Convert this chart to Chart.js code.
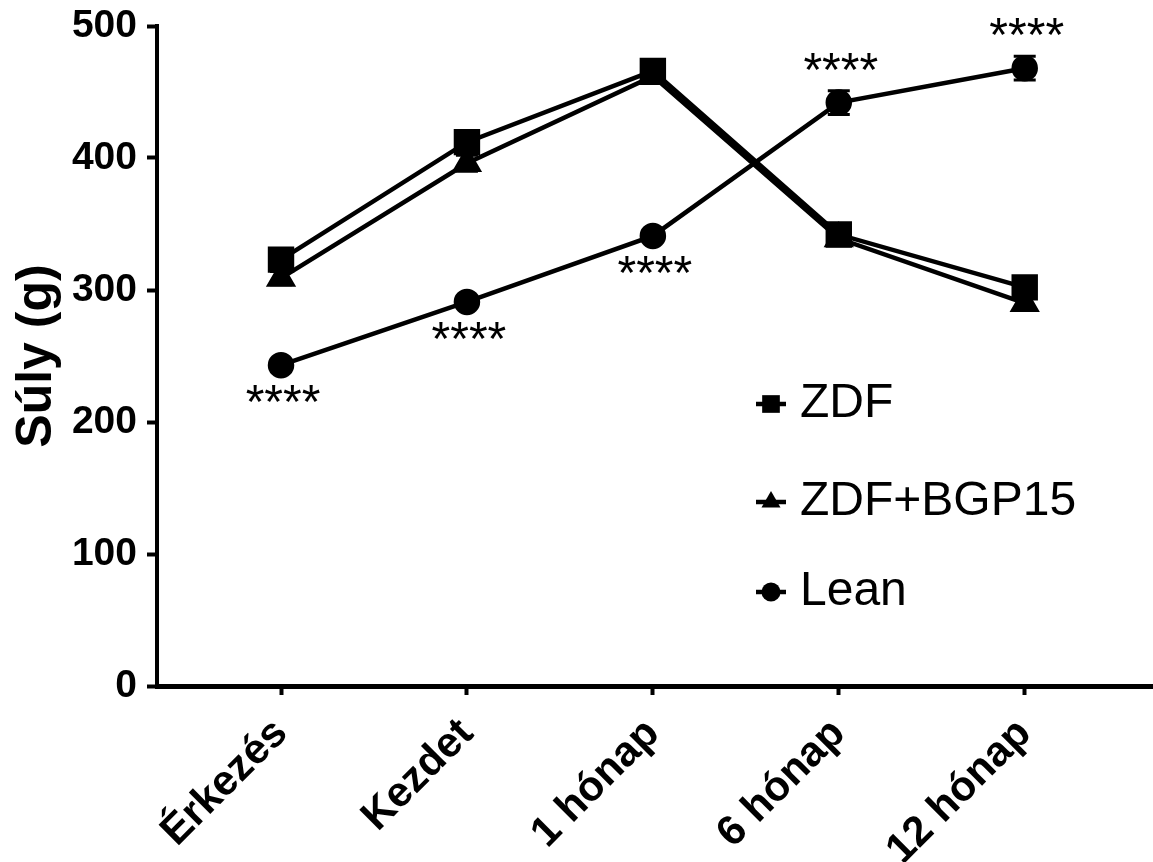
<!DOCTYPE html>
<html>
<head>
<meta charset="utf-8">
<script src="https://cdn.jsdelivr.net/npm/chart.js@4.4.1/dist/chart.umd.min.js"></script>
<style>
  html, body { margin: 0; padding: 0; background: #fff; }
  #wrap { width: 1153px; height: 862px; position: relative; }
</style>
</head>
<body>
<div id="wrap"><canvas id="weightChart"></canvas></div>
<script>
const categories = ['Érkezés', 'Kezdet', '1 hónap', '6 hónap', '12 hónap'];
const zdfValues = [323, 412, 466, 342, 302];
const bgpValues = [309, 396, 462, 339, 290];
const leanValues = [243, 291, 341, 442, 468];
const zdfErr = [7, 7, 5, 6, 8];
const bgpErr = [5, 6, 5, 5, 5];
const leanErr = [3, 3, 4, 9, 9];
const starLabels = ['****', '****', '****', '****', '****'];
const starSide = ['below', 'below', 'below', 'above', 'above'];
const yTicks = [0, 100, 200, 300, 400, 500];

const FONT = 'Arial, "Liberation Sans", sans-serif';

const toPoints = (vals) => vals.map((v, i) => ({ x: i, y: v }));

// error bars drawn from the scales
const errorBars = {
    id: 'errorBars',
    afterDatasetsDraw(chart) {
        const { ctx, scales: { x, y } } = chart;
        ctx.save();
        ctx.strokeStyle = '#000';
        ctx.lineWidth = 3;
        chart.data.datasets.forEach(ds => {
            ds.data.forEach((p, i) => {
                const e = ds.errors[i];
                const px = x.getPixelForValue(p.x);
                const top = y.getPixelForValue(p.y + e);
                const bot = y.getPixelForValue(p.y - e);
                ctx.beginPath();
                ctx.moveTo(px, top); ctx.lineTo(px, bot);
                ctx.moveTo(px - 11, top); ctx.lineTo(px + 11, top);
                ctx.moveTo(px - 11, bot); ctx.lineTo(px + 11, bot);
                ctx.stroke();
            });
        });
        ctx.restore();
    }
};

// significance stars next to the Lean series
const stars = {
    id: 'stars',
    afterDraw(chart) {
        const { ctx, scales: { x, y } } = chart;
        ctx.save();
        ctx.fillStyle = '#000';
        ctx.font = '48px ' + FONT;
        ctx.textAlign = 'center';
        ctx.textBaseline = 'alphabetic';
        leanValues.forEach((v, i) => {
            const px = x.getPixelForValue(i);
            const py = y.getPixelForValue(v);
            const by = starSide[i] === 'above' ? py - 17 : py + 53;
            ctx.fillText(starLabels[i], px + 2, by);
        });
        ctx.restore();
    }
};

// legend inside the plot, lower right
const sideLegend = {
    id: 'sideLegend',
    afterDraw(chart) {
        const { ctx } = chart;
        const rows = [404, 502, 592];
        const sizes = [12.5, 11, 9.5];
        ctx.save();
        chart.data.datasets.forEach((ds, i) => {
            const cy = rows[i];
            const cx = 771;
            ctx.strokeStyle = '#000';
            ctx.lineWidth = 4.5;
            ctx.beginPath();
            ctx.moveTo(cx - 15, cy); ctx.lineTo(cx + 15, cy);
            ctx.stroke();
            ctx.fillStyle = '#000';
            Chart.helpers.drawPoint(ctx, { pointStyle: ds.pointStyle, radius: sizes[i], rotation: 0, borderWidth: 0 }, cx, cy);
            ctx.font = '48px ' + FONT;
            ctx.textAlign = 'left';
            ctx.textBaseline = 'middle';
            ctx.fillText(ds.label, 800, cy);
        });
        ctx.restore();
    }
};

function createWeightChart(ctx) {
    if (!ctx) return;
    new Chart(ctx, {
        type: 'line',
        data: {
            datasets: [{
                label: 'ZDF',
                data: toPoints(zdfValues),
                errors: zdfErr,
                borderColor: '#000', backgroundColor: '#000',
                borderWidth: 4.5,
                pointStyle: 'rect', pointRadius: 15.5,
            }, {
                label: 'ZDF+BGP15',
                data: toPoints(bgpValues),
                errors: bgpErr,
                borderColor: '#000', backgroundColor: '#000',
                borderWidth: 4.5,
                pointStyle: 'triangle', pointRadius: 13,
            }, {
                label: 'Lean',
                data: toPoints(leanValues),
                errors: leanErr,
                borderColor: '#000', backgroundColor: '#000',
                borderWidth: 4.5,
                pointStyle: 'circle', pointRadius: 11,
            }]
        },
        options: {
            responsive: true, maintainAspectRatio: false,
            animation: false,
            layout: { autoPadding: false, padding: { top: 26, bottom: 0, left: 0, right: 0 } },
            plugins: { legend: { display: false }, tooltip: { enabled: false } },
            scales: {
                x: {
                    type: 'linear',
                    min: -0.667, max: 4.69,
                    afterBuildTicks: axis => { axis.ticks = categories.map((_, i) => ({ value: i })); },
                    afterFit: s => { s.height = 176; s.paddingLeft = 0; s.paddingRight = 0; },
                    ticks: {
                        callback: (v) => categories[v],
                        maxRotation: 45, minRotation: 45,
                        color: '#000', padding: 14,
                        font: { family: FONT, size: 42, weight: 'bold' }
                    },
                    grid: { drawOnChartArea: false, tickLength: 9, tickWidth: 4, color: '#000' },
                    border: { color: '#000', width: 5 }
                },
                y: {
                    min: 0, max: 500,
                    afterBuildTicks: axis => { axis.ticks = yTicks.map(v => ({ value: v })); },
                    afterFit: s => { s.width = 157; s.paddingTop = 0; s.paddingBottom = 0; },
                    ticks: {
                        color: '#000', padding: 10,
                        font: { family: FONT, size: 39, weight: 'bold' }
                    },
                    title: {
                        display: true, text: 'Súly (g)', color: '#000',
                        font: { family: FONT, size: 50, weight: 'bold' },
                        padding: { top: 7, bottom: 5 }
                    },
                    grid: { drawOnChartArea: false, tickLength: 10, tickWidth: 4, color: '#000' },
                    border: { color: '#000', width: 4 }
                }
            }
        },
        plugins: [errorBars, stars, sideLegend]
    });
}

createWeightChart(document.getElementById('weightChart').getContext('2d'));
</script>
</body>
</html>
